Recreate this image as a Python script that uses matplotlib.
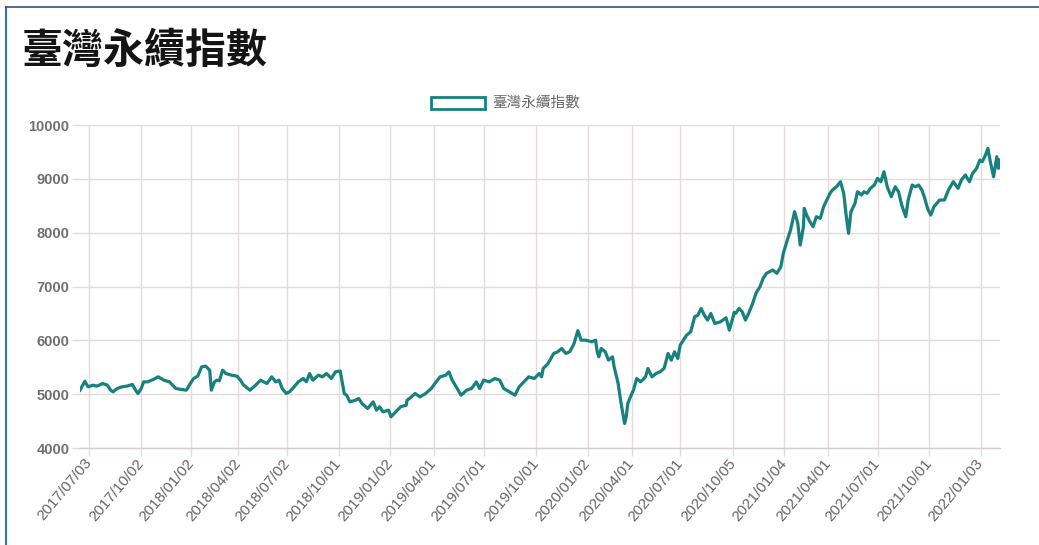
import numpy as np
import matplotlib
matplotlib.use("Agg")
import matplotlib.pyplot as plt
from matplotlib.lines import Line2D
from matplotlib.patches import Rectangle

plt.rcParams['font.family'] = ['Liberation Sans', 'Noto Sans CJK TC', 'DejaVu Sans']

TITLE = "臺灣永續指數"
SERIES_NAME = "臺灣永續指數"

DATES = [
    "2017-06-16", "2017-06-26", "2017-06-30", "2017-07-10", "2017-07-17", "2017-07-26",
    "2017-08-03", "2017-08-09", "2017-08-14", "2017-08-21", "2017-08-29", "2017-09-06",
    "2017-09-15", "2017-09-21", "2017-09-26", "2017-10-02", "2017-10-06", "2017-10-17",
    "2017-10-26", "2017-11-03", "2017-11-14", "2017-11-23", "2017-11-29", "2017-12-05",
    "2017-12-14", "2017-12-22", "2017-12-29", "2018-01-05", "2018-01-12", "2018-01-19",
    "2018-01-26", "2018-02-02", "2018-02-06", "2018-02-12", "2018-02-22", "2018-02-27",
    "2018-03-06", "2018-03-12", "2018-03-21", "2018-03-30", "2018-04-10", "2018-04-16",
    "2018-04-26", "2018-05-07", "2018-05-15", "2018-05-25", "2018-06-04", "2018-06-11",
    "2018-06-15", "2018-06-22", "2018-06-29", "2018-07-05", "2018-07-11", "2018-07-20",
    "2018-07-30", "2018-08-03", "2018-08-09", "2018-08-15", "2018-08-24", "2018-08-31",
    "2018-09-07", "2018-09-17", "2018-09-25", "2018-10-03", "2018-10-11", "2018-10-16",
    "2018-10-22", "2018-10-31", "2018-11-06", "2018-11-12", "2018-11-21", "2018-11-30",
    "2018-12-06", "2018-12-12", "2018-12-18", "2018-12-27", "2019-01-03", "2019-01-11",
    "2019-01-21", "2019-01-30", "2019-02-11", "2019-02-14", "2019-02-25", "2019-03-07",
    "2019-03-18", "2019-03-27", "2019-04-08", "2019-04-15", "2019-04-24", "2019-04-30",
    "2019-05-06", "2019-05-13", "2019-05-21", "2019-05-30", "2019-06-10", "2019-06-18",
    "2019-06-24", "2019-07-01", "2019-07-10", "2019-07-19", "2019-07-29", "2019-08-05",
    "2019-08-14", "2019-08-23", "2019-08-30", "2019-09-09", "2019-09-18", "2019-09-27",
    "2019-10-07", "2019-10-14", "2019-10-16", "2019-10-24", "2019-11-04", "2019-11-11",
    "2019-11-18", "2019-11-25", "2019-12-02", "2019-12-09", "2019-12-16", "2019-12-20",
    "2019-12-30", "2020-01-09", "2020-01-16", "2020-01-30", "2020-02-03", "2020-02-06",
    "2020-02-13", "2020-02-19", "2020-02-26", "2020-03-02", "2020-03-09", "2020-03-12",
    "2020-03-19", "2020-03-23", "2020-03-25", "2020-04-01", "2020-04-07", "2020-04-13",
    "2020-04-20", "2020-04-28", "2020-05-04", "2020-05-11", "2020-05-18", "2020-05-25",
    "2020-06-01", "2020-06-08", "2020-06-12", "2020-06-18", "2020-06-24", "2020-07-01",
    "2020-07-07", "2020-07-13", "2020-07-20", "2020-07-27", "2020-07-31", "2020-08-06",
    "2020-08-12", "2020-08-18", "2020-08-24", "2020-08-31", "2020-09-09", "2020-09-18",
    "2020-09-24", "2020-09-30", "2020-10-06", "2020-10-08", "2020-10-15", "2020-10-21",
    "2020-10-27", "2020-11-02", "2020-11-09", "2020-11-13", "2020-11-20", "2020-11-26",
    "2020-12-02", "2020-12-08", "2020-12-14", "2020-12-21", "2020-12-28", "2020-12-31",
    "2021-01-08", "2021-01-14", "2021-01-21", "2021-01-27", "2021-02-01", "2021-02-05",
    "2021-02-17", "2021-02-22", "2021-02-26", "2021-03-05", "2021-03-11", "2021-03-18",
    "2021-03-24", "2021-03-31", "2021-04-07", "2021-04-12", "2021-04-19", "2021-04-26",
    "2021-05-03", "2021-05-06", "2021-05-11", "2021-05-14", "2021-05-21", "2021-05-26",
    "2021-06-02", "2021-06-07", "2021-06-11", "2021-06-18", "2021-06-25", "2021-07-01",
    "2021-07-07", "2021-07-13", "2021-07-19", "2021-07-26", "2021-08-02", "2021-08-06",
    "2021-08-12", "2021-08-19", "2021-08-24", "2021-08-31", "2021-09-06", "2021-09-10",
    "2021-09-16", "2021-09-23", "2021-09-29", "2021-10-05", "2021-10-12", "2021-10-21",
    "2021-10-29", "2021-11-05", "2021-11-15", "2021-11-23", "2021-11-29", "2021-12-06",
    "2021-12-13", "2021-12-17", "2021-12-24", "2021-12-30", "2022-01-05", "2022-01-11",
    "2022-01-14", "2022-01-19", "2022-01-25", "2022-02-09", "2022-02-11", "2022-02-15",
]

VALUES = [
    5074, 5240, 5136, 5167, 5149, 5198,
    5167, 5074, 5043, 5105, 5136, 5149,
    5180, 5074, 5012, 5105, 5229, 5229,
    5273, 5322, 5260, 5229, 5167, 5105,
    5087, 5074, 5198, 5291, 5334, 5507,
    5520, 5446, 5074, 5229, 5260, 5248,
    5446, 5384, 5353, 5334, 5260, 5170,
    5074, 5167, 5260, 5198, 5322, 5229,
    5260, 5105, 5012, 5043, 5105, 5229,
    5291, 5229, 5384, 5260, 5353, 5322,
    5384, 5291, 5415, 5430, 5012, 4981,
    4857, 4888, 4920, 4827, 4734, 4857,
    4703, 4765, 4672, 4703, 4579, 4672,
    4765, 4796, 4888, 4920, 5012, 4950,
    5012, 5105, 5229, 5322, 5353, 5415,
    5260, 5136, 4981, 5074, 5105, 5229,
    5105, 5260, 5229, 5291, 5260, 5105,
    5043, 4981, 5136, 5229, 5322, 5291,
    5384, 5322, 5477, 5570, 5756, 5787,
    5849, 5756, 5790, 5930, 6180, 6003,
    6003, 5973, 6003, 5787, 5694, 5849,
    5787, 5632, 5694, 5508, 5198, 4888,
    4455, 4579, 4827, 5012, 5074, 5291,
    5229, 5322, 5477, 5322, 5384, 5415,
    5477, 5756, 5632, 5787, 5663, 5911,
    6003, 6096, 6158, 6437, 6468, 6592,
    6468, 6375, 6499, 6313, 6344, 6420,
    6190, 6400, 6520, 6501, 6594, 6531,
    6377, 6501, 6687, 6873, 6995, 7151,
    7244, 7274, 7306, 7244, 7367, 7616,
    7863, 8049, 8389, 8173, 7770, 8110,
    8452, 8327, 8203, 8110, 8296, 8266,
    8482, 8638, 8731, 8792, 8853, 8946,
    8731, 8327, 7987, 8389, 8545, 8760,
    8699, 8760, 8731, 8823, 8885, 9009,
    8946, 9132, 8853, 8667, 8853, 8760,
    8513, 8296, 8606, 8885, 8853, 8885,
    8792, 8667, 8452, 8327, 8482, 8606,
    8606, 8792, 8946, 8823, 8978, 9071,
    8946, 9102, 9195, 9349, 9318, 9442,
    9567, 9318, 9039, 9411, 9195, 9349,
]

TICK_DATES = [
    "2017-07-03", "2017-10-02", "2018-01-02", "2018-04-02", "2018-07-02", "2018-10-01",
    "2019-01-02", "2019-04-01", "2019-07-01", "2019-10-01", "2020-01-02", "2020-04-01",
    "2020-07-01", "2020-10-05", "2021-01-04", "2021-04-01", "2021-07-01", "2021-10-01",
    "2022-01-03",
]
TICK_LABELS = [d.replace("-", "/") for d in TICK_DATES]

Y_TICKS = [4000, 5000, 6000, 7000, 8000, 9000, 10000]

# market closures (Taiwan), used to place the trading days on a category-like axis
HOLIDAYS = [
    "2017-10-04", "2017-10-09", "2017-10-10",
    "2018-01-01", "2018-02-14", "2018-02-15", "2018-02-16", "2018-02-19", "2018-02-20",
    "2018-02-28", "2018-04-04", "2018-04-05", "2018-04-06", "2018-06-18", "2018-09-24",
    "2018-10-10", "2018-12-31",
    "2019-01-01", "2019-01-31", "2019-02-01", "2019-02-04", "2019-02-05", "2019-02-06",
    "2019-02-07", "2019-02-08", "2019-02-28", "2019-03-01", "2019-04-04", "2019-04-05",
    "2019-06-07", "2019-09-13", "2019-10-10", "2019-10-11",
    "2020-01-01", "2020-01-20", "2020-01-21", "2020-01-22", "2020-01-23", "2020-01-24",
    "2020-01-27", "2020-01-28", "2020-01-29", "2020-02-28", "2020-04-02", "2020-04-03",
    "2020-05-01", "2020-06-25", "2020-06-26", "2020-10-01", "2020-10-02", "2020-10-09",
    "2021-01-01", "2021-02-08", "2021-02-09", "2021-02-10", "2021-02-11", "2021-02-12",
    "2021-02-15", "2021-02-16", "2021-03-01", "2021-04-02", "2021-04-05", "2021-04-30",
    "2021-06-14", "2021-09-20", "2021-09-21", "2021-10-11", "2021-12-31",
    "2022-01-27", "2022-01-28", "2022-01-31", "2022-02-01", "2022-02-02", "2022-02-03",
    "2022-02-04",
]

LINE_COLOR = "#16817d"
GRID_COLOR = "#e3dcdb"
TEXT_COLOR = "#666666"

start = np.datetime64(DATES[0])
hol = np.array(HOLIDAYS, dtype="datetime64[D]")


def tidx(ds):
    arr = np.array(ds, dtype="datetime64[D]")
    return np.busday_count(start, arr, holidays=hol)


x = tidx(DATES)
xt = tidx(TICK_DATES)

W, H = 1039, 545
fig = plt.figure(figsize=(W / 100, H / 100), dpi=100)
fig.patch.set_facecolor("white")

ax = fig.add_axes([80 / W, 1 - 448 / H, 920 / W, 323 / H])
ax.plot(x, VALUES, color=LINE_COLOR, lw=2.3, solid_joinstyle="round", zorder=3)
ax.set_xlim(x[0], x[-1])
ax.set_ylim(Y_TICKS[0], Y_TICKS[-1])

ax.set_yticks(Y_TICKS)
ax.set_yticklabels([str(v) for v in Y_TICKS])
ax.set_xticks(xt)
ax.set_xticklabels(TICK_LABELS, rotation=50, ha="right", va="center",
                   rotation_mode="anchor")

ax.grid(True, color=GRID_COLOR, lw=1.0, zorder=0)
ax.tick_params(axis="both", color=GRID_COLOR, length=6, width=1.0,
               labelcolor=TEXT_COLOR)
ax.tick_params(axis="y", pad=1.5, labelsize=10.5)
ax.tick_params(axis="x", pad=3, labelsize=11)
for lab in ax.get_yticklabels():
    lab.set_fontweight("bold")
    lab.set_color("#707070")

for side in ["top", "right", "left"]:
    ax.spines[side].set_visible(False)
ax.spines["bottom"].set_color("#d6cccb")
ax.spines["bottom"].set_linewidth(1.0)

# title
fig.text(22 / W, 1 - 51 / H, TITLE, fontsize=29.5, fontweight="bold",
         family=["Noto Sans CJK TC"], color="#141414", va="center", ha="left")

# legend
fig.add_artist(Rectangle((431 / W, 1 - 109 / H), 54 / W, 12 / H,
                         transform=fig.transFigure, facecolor="white",
                         edgecolor=LINE_COLOR, lw=2.0))
fig.text(492 / W, 1 - 102.5 / H, SERIES_NAME, fontsize=10.5,
         family=["Noto Sans CJK TC"], color=TEXT_COLOR, va="center", ha="left")

# outer frame (left and top)
fig.add_artist(Line2D([6 / W, 6 / W], [0, 1 - 7 / H], transform=fig.transFigure,
                      color="#3b6fb6", lw=1.5))
fig.add_artist(Line2D([6 / W, 1], [1 - 7 / H, 1 - 7 / H], transform=fig.transFigure,
                      color="#34507a", lw=1.2))

fig.savefig("out.png", dpi=100, facecolor="white")
